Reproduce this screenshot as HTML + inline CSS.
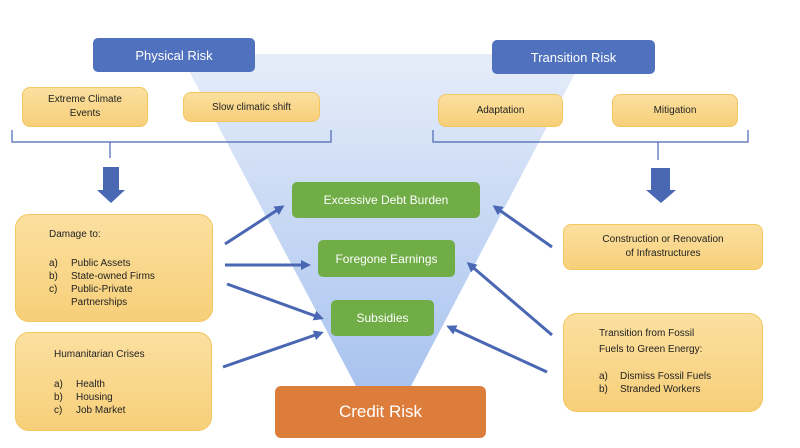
<!DOCTYPE html>
<html><head><meta charset="utf-8"><style>
body{margin:0;width:800px;height:448px;background:#fff;position:relative;overflow:hidden;font-family:"Liberation Sans",sans-serif}
.b{position:absolute;box-sizing:border-box;display:flex;align-items:center;justify-content:center;text-align:center}
.blue{background:#4f71be;color:#fff;border-radius:5px;font-size:13px}
.y{background:linear-gradient(#fbe0a0,#f7cf79);border:1px solid #f3c65f;color:#222;font-size:10px;border-radius:8px}
.g{background:#70ad47;color:#fff;border-radius:5px;font-size:12px}
.t{position:absolute;font-size:10px;color:#222;line-height:13px}
</style></head><body>
<svg width="800" height="448" style="position:absolute;left:0;top:0">
<defs><linearGradient id="f" x1="0" y1="0" x2="0" y2="1"><stop offset="0" stop-color="#e6edf9"/><stop offset="1" stop-color="#a8c3ef"/></linearGradient>
<marker id="a" markerWidth="10" markerHeight="10" refX="7" refY="5" orient="auto" markerUnits="userSpaceOnUse"><path d="M0,0 L10,5 L0,10 z" fill="#4a67b3"/></marker></defs>
<polygon points="180,54 585,54 410,388 357,388" fill="url(#f)"/>
<path d="M12,130 V142 H110 V158 M110,142 H331 V130" fill="none" stroke="#4a67b3" stroke-width="1.2"/>
<path d="M433,130 V142 H658 V160 M658,142 H748 V130" fill="none" stroke="#4a67b3" stroke-width="1.2"/>
<polygon points="103,167 119,167 119,190 125,190 111,203 97,190 103,190" fill="#4a67b3"/>
<polygon points="651,168 670,168 670,190 676,190 661,203 646,190 651,190" fill="#4a67b3"/>
<g stroke="#4a67b3" stroke-width="3" marker-end="url(#a)">
<line x1="225" y1="244" x2="282" y2="207"/>
<line x1="225" y1="265" x2="308" y2="265"/>
<line x1="227" y1="284" x2="321" y2="318"/>
<line x1="223" y1="367" x2="321" y2="333"/>
<line x1="552" y1="247" x2="495" y2="207"/>
<line x1="552" y1="335" x2="469" y2="264"/>
<line x1="547" y1="372" x2="449" y2="327"/>
</g></svg>
<div class="b blue" style="left:93px;top:38px;width:162px;height:34px">Physical Risk</div>
<div class="b blue" style="left:492px;top:40px;width:163px;height:34px">Transition Risk</div>
<div class="b y" style="left:22px;top:87px;width:126px;height:40px;line-height:14px">Extreme Climate<br>Events</div>
<div class="b y" style="left:183px;top:92px;width:137px;height:30px">Slow climatic shift</div>
<div class="b y" style="left:438px;top:94px;width:125px;height:33px">Adaptation</div>
<div class="b y" style="left:612px;top:94px;width:126px;height:33px">Mitigation</div>
<div class="b g" style="left:292px;top:182px;width:188px;height:36px">Excessive Debt Burden</div>
<div class="b g" style="left:318px;top:240px;width:137px;height:37px">Foregone Earnings</div>
<div class="b g" style="left:331px;top:300px;width:103px;height:36px">Subsidies</div>
<div class="b" style="left:275px;top:386px;width:211px;height:52px;background:#dd7d3c;color:#fff;font-size:17px;border-radius:6px">Credit Risk</div>
<div class="b y" style="left:15px;top:214px;width:198px;height:108px;border-radius:14px"></div>
<div class="t" style="left:49px;top:228px">Damage to:</div>
<div class="t" style="left:49px;top:257px">a)<br>b)<br>c)</div>
<div class="t" style="left:71px;top:257px">Public Assets<br>State-owned Firms<br>Public-Private<br>Partnerships</div>
<div class="b y" style="left:15px;top:332px;width:197px;height:99px;border-radius:14px"></div>
<div class="t" style="left:54px;top:348px">Humanitarian Crises</div>
<div class="t" style="left:54px;top:378px">a)<br>b)<br>c)</div>
<div class="t" style="left:76px;top:378px">Health<br>Housing<br>Job Market</div>
<div class="b y" style="left:563px;top:224px;width:200px;height:46px;line-height:14px">Construction or Renovation<br>of Infrastructures</div>
<div class="b y" style="left:563px;top:313px;width:200px;height:99px;border-radius:14px"></div>
<div class="t" style="left:599px;top:326px;line-height:16px">Transition from Fossil<br>Fuels to Green Energy:</div>
<div class="t" style="left:599px;top:370px">a)<br>b)</div>
<div class="t" style="left:620px;top:370px">Dismiss Fossil Fuels<br>Stranded Workers</div>
</body></html>
